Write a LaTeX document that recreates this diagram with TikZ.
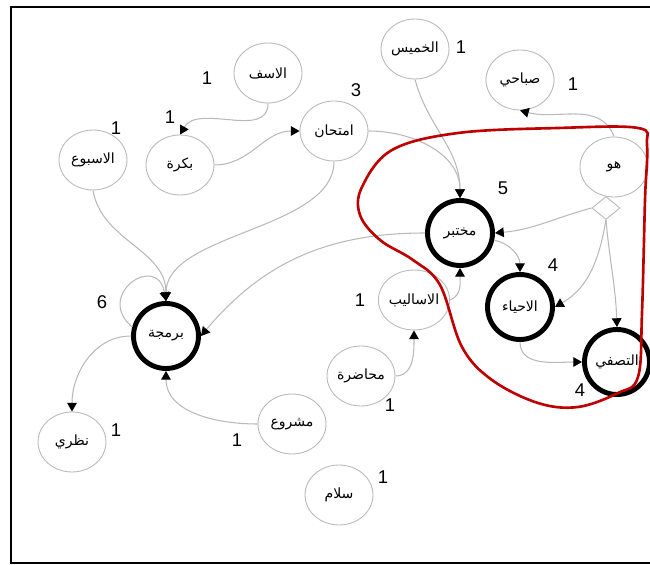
\documentclass[tikz,border=0pt]{standalone}
\usepackage{fontspec}
\usetikzlibrary{shapes.geometric,arrows.meta,positioning}
\TeXXeTstate=1
\newfontfamily\arabicfont[Script=Arabic]{DejaVu Sans}
\newfontfamily\numfont{Liberation Sans}
\newcommand{\artxt}[1]{{\arabicfont\footnotesize\beginR #1\endR}}

\tikzset{
  wnode/.style={ellipse, draw=gray!55, line width=0.5pt, minimum width=1.36cm, minimum height=1.2cm, inner sep=0pt},
  hub/.style={circle, draw=black, line width=2.8pt, minimum size=1.3cm, inner sep=0pt},
  gate/.style={diamond, draw=gray!55, fill=white, line width=0.5pt, minimum width=0.56cm, minimum height=0.46cm, inner sep=0pt},
  wt/.style={font=\numfont\fontsize{10.5}{12}\selectfont, inner sep=1pt},
  link/.style={draw=gray!55, line width=0.6pt, -{Triangle[black,length=5pt,width=5.5pt]}},
}

\begin{document}
\begin{tikzpicture}[x=0.02cm,y=0.02cm]
\useasboundingbox (0,0) rectangle (650,565);
% frame
\draw[line width=1.7pt] (650,558) -- (11,558) -- (11,2) -- (650,2);

% nodes
\node[wnode] (asaf) at (268,492) {\artxt{الاسف}};
\node[wnode] (bukra) at (180,400) {\artxt{بكرة}};
\node[wnode] (usbu) at (93,405) {\artxt{الاسبوع}};
\node[wnode] (imtihan) at (334,434) {\artxt{امتحان}};
\node[wnode] (khamis) at (415,516) {\artxt{الخميس}};
\node[wnode] (sabahi) at (520,485) {\artxt{صباحي}};
\node[wnode] (huwa) at (614,398) {\artxt{هو}};
\node[gate] (split) at (606,357) {};
\node[hub] (mukhtabar) at (460,332) {\artxt{مختبر}};
\node[hub] (ahya) at (520,258) {\artxt{الاحياء}};
\node[hub] (tasfi) at (617,203) {\artxt{التصفي}};
\node[wnode] (asalib) at (414,265) {\artxt{الاساليب}};
\node[wnode] (muhadara) at (361,189) {\artxt{محاضرة}};
\node[wnode] (mashru) at (292,141) {\artxt{مشروع}};
\node[wnode] (salam) at (339,70) {\artxt{سلام}};
\node[hub] (barmaja) at (166,229) {\artxt{برمجة}};
\node[wnode] (nazari) at (72,123) {\artxt{نظري}};

% counts
\node[wt] (w-asaf) at (207,487) {1};
\node[wt] (w-bukra) at (170,448) {1};
\node[wt] (w-usbu) at (116,437) {1};
\node[wt] (w-imtihan) at (356,475) {3};
\node[wt] (w-khamis) at (461,518) {1};
\node[wt] (w-sabahi) at (573,481) {1};
\node[wt] (w-mukhtabar) at (503,377) {5};
\node[wt] (w-ahya) at (553,300) {4};
\node[wt] (w-tasfi) at (580,175) {4};
\node[wt] (w-asalib) at (360,265) {1};
\node[wt] (w-muhadara) at (390,160) {1};
\node[wt] (w-mashru) at (237,125) {1};
\node[wt] (w-salam) at (383,88) {1};
\node[wt] (w-barmaja) at (102,263) {6};
\node[wt] (w-nazari) at (116,135) {1};

% links
\draw[link] (asaf.south) to[out=-90,in=60] (bukra.north);
\draw[link] (bukra.east) to[out=0,in=180] (imtihan.west);
\draw[link] (imtihan.east) to[out=0,in=90] (mukhtabar.north);
\draw[link] (khamis.south) to[out=-75,in=90] (mukhtabar.north);
\draw[link] (imtihan.south) to[out=-90,in=90,looseness=0.8] (barmaja.north);
\draw[link] (mukhtabar.west) to[out=180,in=50] (barmaja.east);
\draw[link] (usbu.south) to[out=-80,in=90] (barmaja.north);
\draw[link] (barmaja.165) to[out=140,in=100,looseness=3] (barmaja.north);
\draw[link] (barmaja.west) to[out=180,in=90] (nazari.north);
\draw[link] (mashru.west) to[out=180,in=-90] (barmaja.south);
\draw[link] (muhadara.east) to[out=0,in=-90] (asalib.south);
\draw[link] (asalib.east) to[out=20,in=-90] (mukhtabar.south);
\draw[link] (huwa.north) to[out=110,in=-15] (sabahi.south);
\draw[link] (split.west) to[out=195,in=5] (mukhtabar.east);
\draw[link] (split.south) to[out=-100,in=30] (ahya.east);
\draw[link] (split.south) to[out=-85,in=92] (tasfi.north);
\draw[link] (mukhtabar.-12) to[out=-10,in=90] (ahya.north);
\draw[link] (ahya.south) to[out=-90,in=180] (tasfi.west);

% group outline
\draw[red!75!black, line width=1.5pt] plot[smooth cycle, tension=0.6] coordinates {
  (458,432) (392,415) (362,378) (360,350) (380,325) (413,305) (440,280)
  (462,218) (492,185) (538,162) (578,158) (618,172) (638,188) (642,252)
  (645,365) (647,420) (638,437) (558,437)};
\end{tikzpicture}
\end{document}
